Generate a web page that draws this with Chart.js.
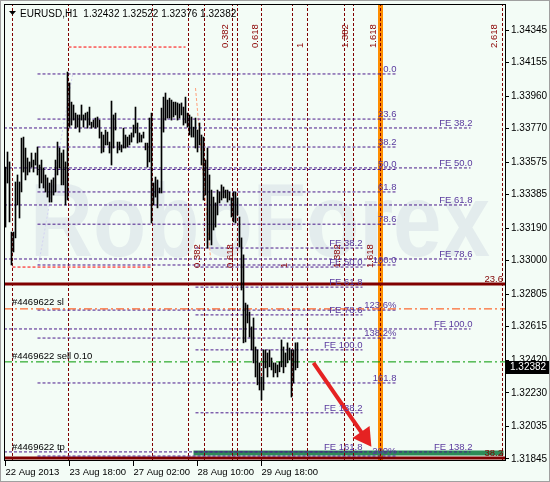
<!DOCTYPE html>
<html>
<head>
<meta charset="utf-8">
<script src="https://cdn.jsdelivr.net/npm/chart.js@4.4.1/dist/chart.umd.min.js"></script>
<style>
  html, body { margin: 0; padding: 0; background: #f3fcf6; }
  canvas { display: block; }
</style>
</head>
<body>
<canvas id="chart" width="550" height="482"></canvas>
<script>
// H1 bars, high / low (bar index 0 = 22 Aug 10:00)
const barHigh = [
  1.33546, 1.33634, 1.33576, 1.33167, 1.33167, 1.33459, 1.33500, 1.33459, 1.33715, 1.33721,
  1.33657, 1.33599, 1.33576, 1.33628, 1.33587, 1.33628, 1.33663, 1.33558, 1.33587, 1.33541,
  1.33500, 1.33483, 1.33453, 1.33471, 1.33483, 1.33587, 1.33692, 1.33657, 1.33628, 1.33646,
  1.33576, 1.34100, 1.34037, 1.33925, 1.33908, 1.33861, 1.33850, 1.33850, 1.33908, 1.33850,
  1.33861, 1.33867, 1.33896, 1.33808, 1.33820, 1.33832, 1.33838, 1.33820, 1.33750, 1.33733,
  1.33762, 1.33750, 1.33692, 1.33931, 1.33850, 1.33861, 1.33692, 1.33692, 1.33675, 1.33773,
  1.33733, 1.33721, 1.33733, 1.33745, 1.33791, 1.33896, 1.33803, 1.33745, 1.33733, 1.33750,
  1.33686, 1.33686, 1.33832, 1.33861, 1.33453, 1.33488, 1.33471, 1.33424, 1.33890, 1.33954,
  1.33978, 1.33937, 1.33948, 1.33937, 1.33925, 1.33925, 1.33920, 1.33914, 1.33920, 1.33896,
  1.33954, 1.33861, 1.33850, 1.33838, 1.33779, 1.33832, 1.33762, 1.33803, 1.33733, 1.33721,
  1.33587, 1.33657, 1.33500, 1.33412, 1.33371, 1.33337, 1.33412, 1.33401, 1.33442, 1.33430,
  1.33412, 1.33412, 1.33401, 1.33366, 1.33401, 1.33401, 1.33366, 1.33255, 1.33133, 1.33034,
  1.32753, 1.32742, 1.32701, 1.32614, 1.32666, 1.32497, 1.32480, 1.32404, 1.32322, 1.32480,
  1.32480, 1.32462, 1.32480, 1.32433, 1.32404, 1.32404, 1.32392, 1.32410, 1.32538, 1.32497,
  1.32462, 1.32521, 1.32491, 1.32480, 1.32480, 1.32521, 1.32522
];
const barLow = [
  1.33196, 1.33453, 1.33226, 1.32975, 1.33051, 1.33133, 1.33325, 1.33249, 1.33401, 1.33517,
  1.33471, 1.33500, 1.33517, 1.33546, 1.33517, 1.33558, 1.33500, 1.33424, 1.33453, 1.33424,
  1.33401, 1.33371, 1.33342, 1.33342, 1.33383, 1.33401, 1.33500, 1.33541, 1.33442, 1.33442,
  1.33325, 1.33354, 1.33779, 1.33791, 1.33820, 1.33773, 1.33779, 1.33750, 1.33820, 1.33779,
  1.33820, 1.33773, 1.33791, 1.33773, 1.33779, 1.33773, 1.33779, 1.33715, 1.33628, 1.33634,
  1.33675, 1.33675, 1.33628, 1.33558, 1.33657, 1.33762, 1.33628, 1.33646, 1.33634, 1.33657,
  1.33657, 1.33663, 1.33675, 1.33692, 1.33721, 1.33745, 1.33686, 1.33692, 1.33692, 1.33715,
  1.33646, 1.33546, 1.33576, 1.33220, 1.33325, 1.33371, 1.33308, 1.33395, 1.33395, 1.33750,
  1.33820, 1.33832, 1.33832, 1.33820, 1.33838, 1.33850, 1.33820, 1.33832, 1.33850, 1.33791,
  1.33803, 1.33779, 1.33733, 1.33721, 1.33721, 1.33657, 1.33634, 1.33675, 1.33558, 1.33354,
  1.33383, 1.33074, 1.33121, 1.33092, 1.33179, 1.33196, 1.33267, 1.33337, 1.33354, 1.33366,
  1.33366, 1.33342, 1.33354, 1.33255, 1.33226, 1.33220, 1.33267, 1.33080, 1.32829, 1.32521,
  1.32526, 1.32637, 1.32555, 1.32480, 1.32404, 1.32322, 1.32276, 1.32246, 1.32188, 1.32246,
  1.32375, 1.32322, 1.32381, 1.32363, 1.32322, 1.32346, 1.32322, 1.32352, 1.32381, 1.32346,
  1.32381, 1.32404, 1.32421, 1.32205, 1.32287, 1.32363, 1.32376
];

const timeTicks = [0, 32, 64, 96, 128];
const timeLabels = ['22 Aug 2013', '23 Aug 18:00', '27 Aug 02:00', '28 Aug 10:00', '29 Aug 18:00'];
const priceTicks = [1.34345, 1.34155, 1.33960, 1.33770, 1.33575, 1.33385, 1.33190,
                    1.33000, 1.32805, 1.32615, 1.32420, 1.32230, 1.32035, 1.31845];
const lastPrice = 1.32382;
const headerText = 'EURUSD,H1  1.32432 1.32522 1.32376 1.32382';

// fibo retracement
const retrLabels = ['0.0', '23.6', '38.2', '50.0', '61.8', '78.6', '100.0', '123.6%', '138.2%', '161.8', '200%'];
const retrPrices = [1.34089, 1.33826, 1.33663, 1.33532, 1.33401, 1.33213, 1.32975, 1.32712, 1.32549, 1.32287, 1.31861];
// fibo expansions
const fe1Labels = ['FE 38.2', 'FE 50.0', 'FE 61.8', 'FE 78.6', 'FE 100.0', 'FE 138.2'];
const fe1Prices = [1.33774, 1.33541, 1.33325, 1.33010, 1.32602, 1.31885];
const fe2Labels = ['FE 38.2', 'FE 50.0', 'FE 61.8', 'FE 78.6', 'FE 100.0', 'FE 138.2', 'FE 161.8'];
const fe2Prices = [1.33074, 1.32963, 1.32846, 1.32684, 1.32480, 1.32113, 1.31885];

// fibo time zones (bar index of the vertical lines)
const timeZoneBars = [3.5, 31.5, 73.5, 91.5, 99.5, 113.5, 116, 128, 143.5, 151, 169.5, 174, 248.5];
const orangeZoneBar = 187.5;
const tzTopLabels = ['0.382', '0.618', '1', '1.382', '1.618', '2.618'];
const tzTopBars = [110, 125, 147.5, 170, 184, 244.5];
const tzLowLabels = ['0.382', '0.618', '1', '1.382', '1.618'];
const tzLowBars = [96, 112.5, 139.5, 166, 182.5];

// order lines
const slPrice = 1.32719;
const sellPrice = 1.32410;
const tpPrice = 1.31879;
const levelLines = [1.32864, 1.31850];
const levelLabels = ['23.6', '38.2'];

const X_MIN = -0.75, X_MAX = 249.75;
const Y_MIN = 1.31832, Y_MAX = 1.34497;

const BG = '#f3fcf6';
const PURPLE = '#4b1a8c';
const LABEL_PURPLE = '#5a3a9e';
const MAROON = '#800000';
const FONT_FAMILY = '"Liberation Sans", Arial, sans-serif';

function seg(x0, y0, x1, y1, color, width, dash, order) {
  return {
    type: 'line',
    data: [{ x: x0, y: y0 }, { x: x1, y: y1 }],
    borderColor: color,
    borderWidth: width,
    borderDash: dash || [],
    pointRadius: 0,
    fill: false,
    order: order === undefined ? 2 : order
  };
}

const datasets = [];

datasets.push({
  type: 'bar',
  data: barHigh.map((h, i) => ({ x: i, y: [barLow[i], h] })),
  backgroundColor: '#000',
  borderWidth: 0,
  barThickness: 1,
  grouped: false,
  order: 1
});

// level lines
levelLines.forEach(p => datasets.push(seg(X_MIN, p, X_MAX, p, MAROON, 3, [], 3)));
datasets.push(seg(94, tpPrice, 249, tpPrice, '#2e8b57', 5, [], 3));
datasets.push(seg(X_MIN, slPrice, X_MAX, slPrice, '#ff4500', 1, [8, 3, 2, 3]));
datasets.push(seg(X_MIN, sellPrice, X_MAX, sellPrice, '#009900', 1, [8, 3, 2, 3]));

retrPrices.forEach(p => datasets.push(seg(16, p, 195, p, PURPLE, 1, [3, 2])));
fe1Prices.forEach(p => datasets.push(seg(X_MIN, p, 232.5, p, PURPLE, 1, [3, 2])));
fe2Prices.forEach(p => datasets.push(seg(95, p, 178.5, p, PURPLE, 1, [3, 2])));

// small red base lines and trend lines
datasets.push(seg(31.5, 1.34246, 90, 1.34246, '#ff0000', 1, [3, 2]));
datasets.push(seg(3.5, 1.32963, 73.5, 1.32963, '#ff0000', 1, [3, 2]));
datasets.push(seg(95, 1.34007, 102.5, 1.33016, '#ffa07a', 1, [3, 2]));
datasets.push(seg(33.5, 1.34083, 16.5, 1.32975, '#d4d4f2', 1, [2, 2]));

timeZoneBars.forEach(b => datasets.push(seg(b, Y_MIN, b, Y_MAX, MAROON, 1, [3, 2])));
datasets.push(seg(orangeZoneBar, Y_MIN, orangeZoneBar, Y_MAX, '#ff8c00', 5, [], 3));
datasets.push(seg(orangeZoneBar, Y_MIN, orangeZoneBar, Y_MAX, MAROON, 1, [3, 2], 2));

// red arrow
datasets.push(seg(154, 1.32404, 178.5, 1.31990, '#e52222', 4, [], 0));
datasets.push({
  type: 'line',
  data: [{ x: 179.5, y: 1.31972 }],
  showLine: false,
  pointStyle: 'triangle',
  pointRadius: 12,
  pointRotation: 145,
  pointBackgroundColor: '#e52222',
  pointBorderWidth: 0,
  order: 0
});

function vText(ctx, text, x, y) {
  ctx.save();
  ctx.translate(x, y);
  ctx.rotate(-Math.PI / 2);
  ctx.textAlign = 'left';
  ctx.textBaseline = 'middle';
  ctx.fillText(text, 0, 0);
  ctx.restore();
}

const overlay = {
  id: 'overlay',
  beforeDraw(chart) {
    const { ctx, chartArea: a } = chart;
    ctx.save();
    ctx.fillStyle = BG;
    ctx.fillRect(0, 0, chart.width, chart.height);
    ctx.beginPath();
    ctx.rect(a.left, a.top, a.right - a.left, a.bottom - a.top);
    ctx.clip();
    // watermark
    ctx.fillStyle = '#e3eced';
    ctx.font = 'bold 104px ' + FONT_FAMILY;
    const w = ctx.measureText('RoboForex').width;
    ctx.translate(30, 256);
    ctx.scale(460 / w, 1);
    ctx.textBaseline = 'alphabetic';
    ctx.fillText('RoboForex', 0, 0);
    ctx.restore();
  },
  afterDraw(chart) {
    const { ctx, chartArea: a } = chart;
    const px = v => chart.scales.x.getPixelForValue(v);
    const py = v => chart.scales.y.getPixelForValue(v);
    ctx.save();
    ctx.font = '9.5px ' + FONT_FAMILY;
    ctx.textBaseline = 'alphabetic';

    // fibo labels
    ctx.fillStyle = LABEL_PURPLE;
    ctx.textAlign = 'right';
    retrPrices.forEach((p, i) => ctx.fillText(retrLabels[i], px(195.5), py(p) - 2));
    fe1Prices.forEach((p, i) => ctx.fillText(fe1Labels[i], px(233.5), py(p) - 2));
    fe2Prices.forEach((p, i) => ctx.fillText(fe2Labels[i], px(178.5), py(p) - 2));

    // level labels on the right
    ctx.fillStyle = MAROON;
    levelLines.forEach((p, i) => ctx.fillText(levelLabels[i], a.right - 2, py(p) - 2));

    // order labels
    ctx.fillStyle = '#000';
    ctx.textAlign = 'left';
    ctx.fillText('#4469622 sl', 12, py(slPrice) - 4);
    ctx.fillText('#4469622 sell 0.10', 12, py(sellPrice) - 3);
    ctx.fillText('#4469622 tp', 12, py(tpPrice) - 3);

    // time zone ratios (vertical text)
    ctx.fillStyle = '#8b0000';
    tzTopBars.forEach((b, i) => vText(ctx, tzTopLabels[i], px(b), 48));
    tzLowBars.forEach((b, i) => vText(ctx, tzLowLabels[i], px(b), 268));

    // plot frame
    ctx.strokeStyle = '#000';
    ctx.lineWidth = 1;
    ctx.strokeRect(a.left + 0.5, a.top + 0.5, a.right - a.left, a.bottom - a.top - 1);

    // header
    ctx.fillStyle = '#000';
    ctx.beginPath();
    ctx.moveTo(9, 11); ctx.lineTo(16, 11); ctx.lineTo(12.5, 15); ctx.closePath();
    ctx.fill();
    ctx.font = '10px ' + FONT_FAMILY;
    ctx.fillText(headerText, 20, 17);

    // current price box
    const yl = py(lastPrice);
    ctx.fillStyle = '#000';
    ctx.fillRect(a.right + 1, Math.round(yl) - 6, 44, 13);
    ctx.fillStyle = '#fff';
    ctx.textBaseline = 'middle';
    ctx.fillText(lastPrice.toFixed(5), a.right + 5, Math.round(yl) + 0.5);

    // window border
    ctx.strokeStyle = '#a0a0a0';
    ctx.strokeRect(0.5, 0.5, chart.width - 1, chart.height - 1);
    ctx.restore();
  }
};

new Chart(document.getElementById('chart'), {
  type: 'bar',
  data: { datasets },
  options: {
    responsive: false,
    animation: false,
    devicePixelRatio: 1,
    layout: { autoPadding: false, padding: { left: 4, top: 4, right: 0, bottom: 0 } },
    plugins: { legend: { display: false }, tooltip: { enabled: false } },
    scales: {
      x: {
        type: 'linear',
        min: X_MIN,
        max: X_MAX,
        offset: false,
        afterBuildTicks: s => { s.ticks = timeTicks.map(v => ({ value: v })); },
        afterFit: s => { s.height = 21; s.paddingLeft = 0; s.paddingRight = 0; },
        ticks: {
          callback: v => timeLabels[timeTicks.indexOf(v)],
          align: 'start',
          maxRotation: 0,
          autoSkip: false,
          padding: 1,
          color: '#000',
          font: { family: FONT_FAMILY, size: 9.5 }
        },
        grid: { drawOnChartArea: false, offset: false, tickLength: 5, color: '#000' },
        border: { display: false }
      },
      y: {
        position: 'right',
        min: Y_MIN,
        max: Y_MAX,
        afterBuildTicks: s => { s.ticks = priceTicks.map(v => ({ value: v })); },
        afterFit: s => { s.width = 45; s.paddingTop = 0; s.paddingBottom = 0; },
        ticks: {
          callback: v => v.toFixed(5),
          autoSkip: false,
          padding: 2,
          color: '#000',
          font: { family: FONT_FAMILY, size: 10 }
        },
        grid: { drawOnChartArea: false, tickLength: 4, color: '#000' },
        border: { display: false }
      }
    }
  },
  plugins: [overlay]
});
</script>
</body>
</html>
